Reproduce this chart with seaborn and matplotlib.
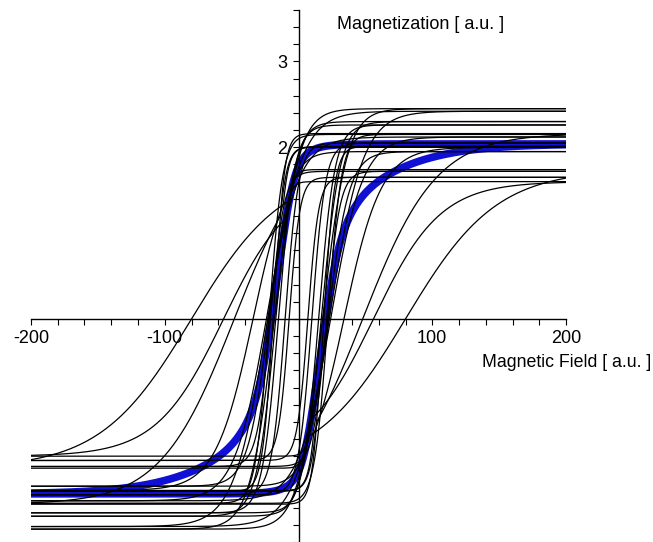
import numpy as np
import pandas as pd
import matplotlib
matplotlib.use("Agg")
import matplotlib.pyplot as plt
from matplotlib.ticker import FixedLocator, FuncFormatter
import seaborn as sns

# ---- data (one hysteresis loop per entry) ----
saturation = [1.74, 1.60, 2.00, 2.16, 2.45, 2.42, 2.26, 2.15, 2.05, 2.01, 1.72, 1.65, 2.12, 1.95, 2.30]  # |M| at saturation
coercive_field = [80, 56, 34, 48, 18, 23, 15, 22, 10, 19, 21, 7, 24, 22, 17]                         # zero crossing
transition_width = [68, 50, 28, 55, 18, 25, 12, 10, 10, 8, 10, 8, 24, 16, 14]                         # outer width
switch_field = [13, 15, 17, 18, 18, 23, 15, 22, 10, 19, 21, 7, 24, 22, 17]                           # steep inner centre
switch_width = [6, 6, 7, 7, 18, 25, 12, 10, 10, 8, 10, 8, 24, 16, 14]                                # steep inner width
field_range = [-200, 200]
x_tick_labels = [-200, -100, 100, 200]
y_tick_labels = [2, 3]

# ---- build a long table of branches ----
H = np.linspace(field_range[0], field_range[1], 1201)
rows = []
for i, (ms, hc, w, hs, ws) in enumerate(zip(saturation, coercive_field, transition_width,
                                            switch_field, switch_width)):
    up = np.minimum(ms * np.tanh((H - hc) / w), ms * np.tanh((H - hs) / ws))      # ascending branch
    down = np.maximum(ms * np.tanh((H + hc) / w), ms * np.tanh((H + hs) / ws))    # descending branch
    rows.append(pd.DataFrame({"H": H, "M": up, "curve": f"{i}u", "branch": "up"}))
    rows.append(pd.DataFrame({"H": H, "M": down, "curve": f"{i}d", "branch": "down"}))
df = pd.concat(rows, ignore_index=True)

sns.set_style("white")
plt.rcParams["font.family"] = ["Liberation Sans", "DejaVu Sans"]

fig = plt.figure(figsize=(6.53, 5.42), dpi=100)
ax = fig.add_axes([31 / 653, 0, 535 / 653, 532 / 542])

# mean loop (blue, thick) - averaged by seaborn over the individual loops
sns.lineplot(data=df, x="H", y="M", hue="branch", estimator="mean", errorbar=None,
             palette={"up": "#1010d4", "down": "#1010d4"}, linewidth=5.5,
             legend=False, ax=ax, zorder=2, sort=True)
# individual loops (thin black)
sns.lineplot(data=df, x="H", y="M", units="curve", estimator=None, color="black",
             linewidth=0.9, legend=False, ax=ax, zorder=3, sort=True)

ax.set_xlim(*field_range)
ax.set_ylim(-2.6, 3.6)

for s in ["top", "right"]:
    ax.spines[s].set_visible(False)
ax.spines["left"].set_position(("data", 0))
ax.spines["bottom"].set_position(("data", 0))
for s in ["left", "bottom"]:
    ax.spines[s].set_color("black")
    ax.spines[s].set_linewidth(1.0)
    ax.spines[s].set_zorder(4)

ax.xaxis.set_major_locator(FixedLocator(np.arange(-200, 201, 20)))
ax.yaxis.set_major_locator(FixedLocator(np.round(np.arange(-2.6, 3.61, 0.2), 1)))
ax.xaxis.set_major_formatter(FuncFormatter(
    lambda v, p: f"{int(round(v))}" if int(round(v)) in x_tick_labels else ""))
ax.yaxis.set_major_formatter(FuncFormatter(
    lambda v, p: f"{int(round(v))}" if abs(v - round(v)) < 1e-6 and int(round(v)) in y_tick_labels else ""))
ax.tick_params(axis="both", direction="out", length=4, width=0.8, color="black",
               labelsize=13, labelcolor="black", pad=4, left=True, bottom=True)
ax.set_xlabel("")
ax.set_ylabel("")
ax.grid(False)

ax.text(29, 3.43, "Magnetization [ a.u. ]", fontsize=13, ha="left", va="center", color="black")
ax.text(137, -0.51, "Magnetic Field [ a.u. ]", fontsize=12.8, ha="left", va="center",
        color="black", clip_on=False)

fig.savefig("out.png", dpi=100, facecolor="white")
